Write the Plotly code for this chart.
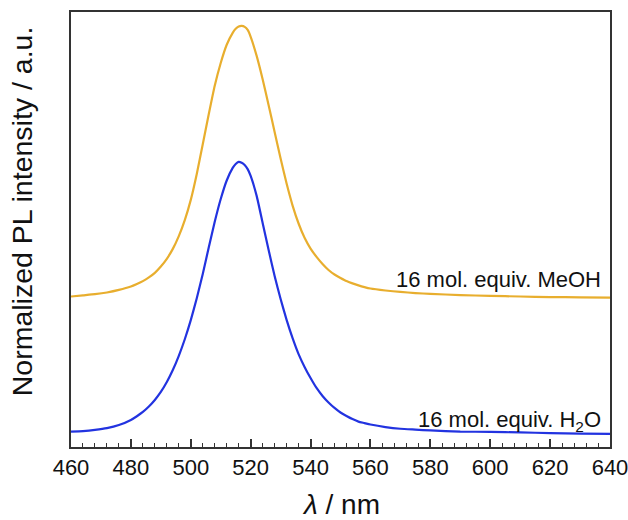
import plotly.graph_objects as go

# Emission wavelength grid (nm)
wavelength = [460, 464, 468, 472, 476,
              480, 482, 484, 486, 488, 490, 492, 494, 496, 498, 500, 502, 504,
              506, 508, 510, 512, 514,
              515, 516, 517, 518, 519,
              520, 522, 524, 526, 528, 530, 532, 534, 536, 538, 540, 542, 544,
              546, 548, 550, 552, 554, 556, 558, 560,
              565, 570, 575, 580,
              590, 600, 610, 620, 630, 640]

# Normalized PL intensity, 16 mol. equiv. H2O
pl_h2o = [0.054, 0.056, 0.060, 0.066, 0.077,
          0.095, 0.108, 0.123, 0.142, 0.165, 0.193, 0.228, 0.270, 0.320, 0.378,
          0.445, 0.522, 0.607, 0.700, 0.790, 0.870, 0.935, 0.979,
          0.993, 1.000, 0.997, 0.989, 0.975,
          0.951, 0.881, 0.786, 0.691, 0.600, 0.519, 0.446, 0.382, 0.326, 0.281,
          0.242, 0.207, 0.179, 0.156, 0.137, 0.121, 0.109, 0.098, 0.089, 0.084,
          0.079,
          0.070, 0.064, 0.061, 0.058,
          0.054, 0.053, 0.051, 0.049, 0.047, 0.046]

# Normalized PL intensity, 16 mol. equiv. MeOH
pl_meoh = [0.051, 0.055, 0.059, 0.065, 0.074,
           0.086, 0.095, 0.105, 0.118, 0.134, 0.156, 0.183, 0.218, 0.263, 0.319,
           0.390, 0.481, 0.585, 0.690, 0.790, 0.870, 0.934, 0.976,
           0.990, 0.998, 1.000, 0.997, 0.986,
           0.962, 0.895, 0.813, 0.722, 0.628, 0.535, 0.447, 0.370, 0.307, 0.257,
           0.219, 0.190, 0.165, 0.144, 0.128, 0.116, 0.105, 0.097, 0.090, 0.084,
           0.079,
           0.072, 0.067, 0.063, 0.060,
           0.056, 0.053, 0.051, 0.049, 0.048, 0.047]

# Vertical offset used to stack the MeOH spectrum above the H2O one
meoh_offset = 0.477

x_ticks = [460, 480, 500, 520, 540, 560, 580, 600, 620, 640]

FONT = "Liberation Sans, Arial, sans-serif"
ORANGE = "#E8AE2E"
BLUE = "#2233E0"
AXIS = "#333333"
TEXT = "#111111"

fig = go.Figure()

fig.add_trace(go.Scatter(
    x=wavelength,
    y=[v + meoh_offset for v in pl_meoh],
    mode="lines",
    line=dict(color=ORANGE, width=2.2, shape="spline", smoothing=0.5),
    showlegend=False,
    hoverinfo="skip",
))

fig.add_trace(go.Scatter(
    x=wavelength,
    y=pl_h2o,
    mode="lines",
    line=dict(color=BLUE, width=2.2, shape="spline", smoothing=0.5),
    showlegend=False,
    hoverinfo="skip",
))

# Curve labels
fig.add_annotation(
    x=0.9865, xref="paper", y=0.586, yref="y",
    text="16 mol. equiv. MeOH", showarrow=False,
    xanchor="right", yanchor="middle",
    font=dict(family=FONT, size=22, color=TEXT),
)
fig.add_annotation(
    x=0.9865, xref="paper", y=0.092, yref="y",
    text="16 mol. equiv. H<sub>2</sub>O", showarrow=False,
    xanchor="right", yanchor="middle",
    font=dict(family=FONT, size=22, color=TEXT),
)

# Axis titles
fig.add_annotation(
    x=-0.0905, xref="paper", y=0.5425, yref="paper",
    text="Normalized PL intensity / a.u.", showarrow=False,
    textangle=-90, xanchor="center", yanchor="middle",
    font=dict(family=FONT, size=28.5, color=TEXT),
)
fig.add_annotation(
    x=0.5, xref="paper", y=-0.133, yref="paper",
    text="<i>λ</i> / nm", showarrow=False,
    xanchor="center", yanchor="middle",
    font=dict(family=FONT, size=28, color=TEXT),
)

fig.update_xaxes(
    range=[460, 640],
    tickvals=x_ticks,
    ticktext=[str(t) for t in x_ticks],
    ticks="inside", ticklen=8, tickwidth=1.5, tickcolor=AXIS,
    minor=dict(dtick=4, tick0=460, ticks="inside", ticklen=4,
               tickwidth=1.2, tickcolor=AXIS, showgrid=False),
    showline=True, linecolor=AXIS, linewidth=2, mirror=True,
    showgrid=False, zeroline=False,
    automargin=False,
    ticklabeloverflow="allow",
    tickfont=dict(family=FONT, size=22, color=TEXT),
)

fig.update_yaxes(
    range=[0, 1.526],
    showticklabels=False, ticks="",
    showline=True, linecolor=AXIS, linewidth=2, mirror=True,
    showgrid=False, zeroline=False,
    automargin=False,
)

fig.update_layout(
    width=628, height=520,
    margin=dict(l=71, r=18, t=12, b=73),
    paper_bgcolor="white", plot_bgcolor="white",
)

fig.write_html("out.html")
